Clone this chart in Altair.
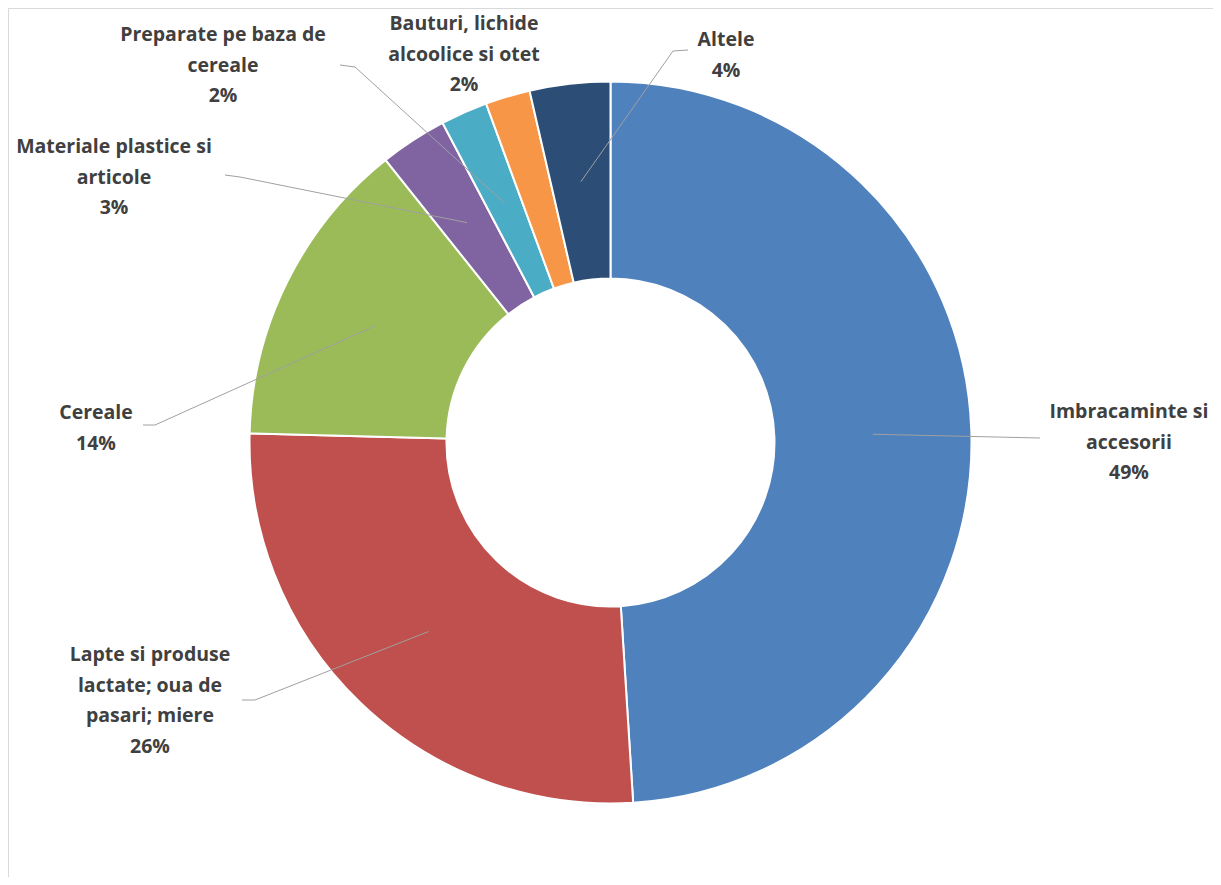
import math
import altair as alt
import pandas as pd

# ---- data ----
categories = [
    "Imbracaminte si accesorii",
    "Lapte si produse lactate; oua de pasari; miere",
    "Cereale",
    "Materiale plastice si articole",
    "Preparate pe baza de cereale",
    "Bauturi, lichide alcoolice si otet",
    "Altele",
]
values = [49.0, 26.4, 13.9, 3.0, 2.1, 2.0, 3.6]
label_lines = [
    "Imbracaminte si\naccesorii",
    "Lapte si produse\nlactate; oua de\npasari; miere",
    "Cereale",
    "Materiale plastice si\narticole",
    "Preparate pe baza de\ncereale",
    "Bauturi, lichide\nalcoolice si otet",
    "Altele",
]
colors = ["#4f81bd", "#c0504d", "#9bbb59", "#8064a2", "#4bacc6", "#f79646", "#2c4d75"]

# ---- layout (chart pixel coordinates) ----
W, H = 1205, 869
CX, CY = W / 2, H / 2
R_OUT, R_IN = 361, 164
label_x = [1121, 142, 88, 106, 215, 456, 718]
label_y = [404, 647, 405, 139, 27, 16, 32]  # middle of first line
# leader: elbow point and end point (None = no leader)
leader_elbow = [None, (247, 692), (147, 417), (232, 169), (347, 59), None, (665, 43)]
leader_end = [(1032, 430), (234, 692), (135, 417), (217, 167), (332, 57), None, (680, 42)]

total = sum(values)
pcts = [round(v / total * 100) for v in values]

df = pd.DataFrame({"cat": categories, "value": values, "idx": list(range(len(values)))})

df_lab = pd.DataFrame({
    "cat": categories,
    "text": [f"{l}\n{p}%" for l, p in zip(label_lines, pcts)],
    "x": label_x,
    "y": label_y,
})

rows = []
cum = 0.0
r_mid = (R_OUT + R_IN) / 2
for i, (c, v) in enumerate(zip(categories, values)):
    a = (cum + v / 2) / total * 2 * math.pi
    cum += v
    if leader_end[i] is None:
        continue
    sx = CX + r_mid * math.sin(a)
    sy = CY - r_mid * math.cos(a)
    pts = [(sx, sy)]
    if leader_elbow[i] is not None:
        pts.append(leader_elbow[i])
    pts.append(leader_end[i])
    for k, (px, py) in enumerate(pts):
        rows.append({"cat": c, "o": k, "x": px, "y": py})
df_lines = pd.DataFrame(rows)

xs = alt.Scale(domain=[0, W], nice=False, zero=False)
ys = alt.Scale(domain=[0, H], nice=False, zero=False, reverse=True)

arc = alt.Chart(df).mark_arc(
    outerRadius=R_OUT, innerRadius=R_IN, stroke="white", strokeWidth=2
).encode(
    theta=alt.Theta("value:Q", stack=True),
    order=alt.Order("idx:Q"),
    color=alt.Color("cat:N", scale=alt.Scale(domain=categories, range=colors), legend=None),
)

lines = alt.Chart(df_lines).mark_line(color="#a0a0a0", strokeWidth=1).encode(
    x=alt.X("x:Q", scale=xs, axis=None),
    y=alt.Y("y:Q", scale=ys, axis=None),
    detail="cat:N",
    order="o:Q",
)

texts = alt.Chart(df_lab).mark_text(
    lineBreak="\n", lineHeight=30.5, fontSize=19.5, font="Open Sans", fontWeight="bold",
    color="#404040", align="center", baseline="middle",
).encode(
    x=alt.X("x:Q", scale=xs, axis=None),
    y=alt.Y("y:Q", scale=ys, axis=None),
    text="text:N",
)

chart = alt.layer(arc, lines, texts).properties(
    width=W, height=H, padding=0, autosize=alt.AutoSizeParams(type="none"),
    background="white",
).configure_view(stroke="#d9d9d9", strokeWidth=1)

chart.save("out.html", embed_options={"renderer": "svg", "actions": False})
